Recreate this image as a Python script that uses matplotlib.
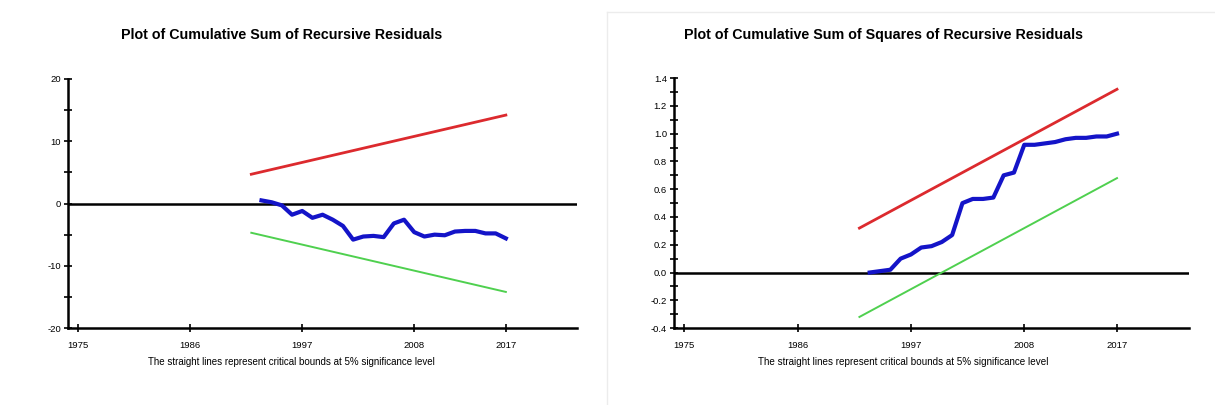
import matplotlib
matplotlib.use("Agg")
import matplotlib.pyplot as plt
from matplotlib.ticker import MultipleLocator

plt.rcParams['font.family'] = ['Liberation Sans', 'DejaVu Sans']
plt.rcParams['axes.unicode_minus'] = False

# data
years = list(range(1993, 2018))
cusum = [0.5, 0.2, -0.3, -1.8, -1.2, -2.3, -1.8, -2.6, -3.6, -5.8, -5.3, -5.2, -5.4,
         -3.2, -2.6, -4.6, -5.3, -5.0, -5.1, -4.5, -4.4, -4.4, -4.8, -4.8, -5.6]
cusumsq = [0.00, 0.01, 0.02, 0.10, 0.13, 0.18, 0.19, 0.22, 0.27, 0.50, 0.53, 0.53, 0.54,
           0.70, 0.72, 0.92, 0.92, 0.93, 0.94, 0.96, 0.97, 0.97, 0.98, 0.98, 1.00]

bound_years = [1992, 2017]
cusum_upper = [4.7, 14.2]
cusum_lower = [-4.7, -14.2]
cusumsq_upper = [0.32, 1.32]
cusumsq_lower = [-0.32, 0.68]

xticks = [1975, 1986, 1997, 2008, 2017]

titles = ['Plot of Cumulative Sum of Recursive Residuals',
          'Plot of Cumulative Sum of Squares of Recursive Residuals']
caption = 'The straight lines represent critical bounds at 5% significance level'

fig = plt.figure(figsize=(12.15, 4.05), dpi=100)
ax1 = fig.add_axes([0.056, 0.190, 0.419, 0.615])
ax2 = fig.add_axes([0.5547, 0.190, 0.424, 0.617])

panels = [
    (ax1, cusum, cusum_upper, cusum_lower, (-20, 20), 10, 5, '%d'),
    (ax2, cusumsq, cusumsq_upper, cusumsq_lower, (-0.4, 1.4), 0.2, 0.1, '%.1f'),
]

for ax, series, up, lo, ylim, major, minor, fmt in panels:
    ax.axhline(0, color='black', lw=1.8, zorder=1)
    ax.plot(bound_years, up, color='#dc2a2e', lw=2.0, zorder=2)
    ax.plot(bound_years, lo, color='#4fd04f', lw=1.4, zorder=2)
    ax.plot(years, series, color='#1414c8', lw=3.0, zorder=3, solid_joinstyle='round')
    ax.set_xlim(1974, 2024)
    ax.set_ylim(*ylim)
    ax.set_xticks(xticks)
    ax.yaxis.set_major_locator(MultipleLocator(major))
    ax.yaxis.set_minor_locator(MultipleLocator(minor))
    ax.yaxis.set_major_formatter(plt.FormatStrFormatter(fmt))
    for s in ['top', 'right']:
        ax.spines[s].set_visible(False)
    for s in ['left', 'bottom']:
        ax.spines[s].set_linewidth(1.8)
        ax.spines[s].set_color('black')
    ax.tick_params(which='both', direction='inout', length=6, width=1.2, colors='black',
                   labelsize=6.8, pad=2)
    ax.tick_params(axis='x', pad=6)

fig.text(282 / 1215, 1 - 35 / 405, titles[0], ha='center', va='center',
         fontsize=10.3, fontweight='bold')
fig.text(883 / 1215, 1 - 35 / 405, titles[1], ha='center', va='center',
         fontsize=10.3, fontweight='bold')
fig.text(291 / 1215, 1 - 362 / 405, caption, ha='center', va='center', fontsize=7)
fig.text(903 / 1215, 1 - 362 / 405, caption, ha='center', va='center', fontsize=7.1)

# faint frame around the right panel image
fig.add_artist(plt.Line2D([607 / 1215, 607 / 1215], [0, 1 - 12 / 405],
                          color='#ececec', lw=1, transform=fig.transFigure))
fig.add_artist(plt.Line2D([607 / 1215, 1], [1 - 12 / 405, 1 - 12 / 405],
                          color='#ececec', lw=1, transform=fig.transFigure))

fig.savefig('out.png', dpi=100)
